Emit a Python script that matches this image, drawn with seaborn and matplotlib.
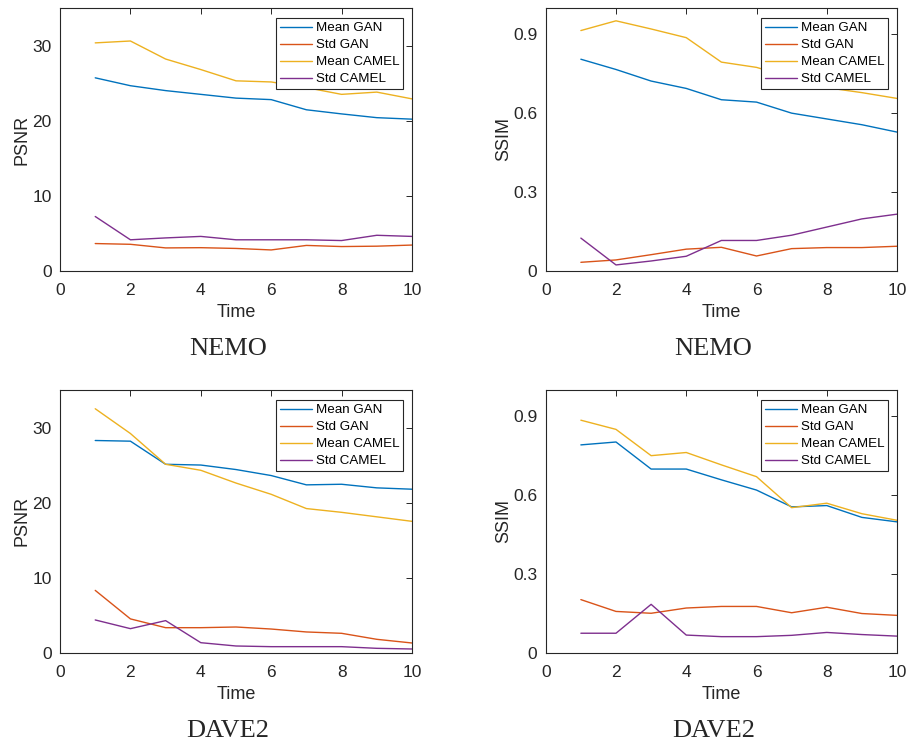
import matplotlib
matplotlib.use("Agg")
import matplotlib.pyplot as plt
import pandas as pd
import seaborn as sns

# time steps
time = [1, 2, 3, 4, 5, 6, 7, 8, 9, 10]
series_names = ["Mean GAN", "Std GAN", "Mean CAMEL", "Std CAMEL"]

# NEMO - PSNR
nemo_psnr_mean_gan = [25.7, 24.65, 24.0, 23.5, 23.0, 22.8, 21.45, 20.9, 20.4, 20.2]
nemo_psnr_std_gan = [3.65, 3.55, 3.07, 3.1, 3.0, 2.8, 3.4, 3.25, 3.3, 3.45]
nemo_psnr_mean_camel = [30.35, 30.6, 28.2, 26.8, 25.3, 25.15, 24.4, 23.5, 23.8, 22.9]
nemo_psnr_std_camel = [7.25, 4.15, 4.4, 4.6, 4.15, 4.15, 4.15, 4.05, 4.75, 4.6]

# NEMO - SSIM
nemo_ssim_mean_gan = [0.805, 0.766, 0.722, 0.694, 0.651, 0.642, 0.600, 0.578, 0.556, 0.528]
nemo_ssim_std_gan = [0.033, 0.042, 0.062, 0.083, 0.090, 0.057, 0.085, 0.089, 0.089, 0.094]
nemo_ssim_mean_camel = [0.914, 0.951, 0.920, 0.887, 0.794, 0.774, 0.735, 0.697, 0.678, 0.656]
nemo_ssim_std_camel = [0.125, 0.023, 0.038, 0.056, 0.116, 0.116, 0.136, 0.167, 0.198, 0.216]

# DAVE2 - PSNR
dave_psnr_mean_gan = [28.27, 28.18, 25.1, 25.0, 24.4, 23.6, 22.36, 22.44, 21.96, 21.78]
dave_psnr_std_gan = [8.3, 4.5, 3.33, 3.33, 3.42, 3.15, 2.76, 2.58, 1.78, 1.29]
dave_psnr_mean_camel = [32.5, 29.2, 25.1, 24.3, 22.6, 21.1, 19.2, 18.7, 18.1, 17.5]
dave_psnr_std_camel = [4.36, 3.2, 4.27, 1.33, 0.89, 0.8, 0.8, 0.8, 0.58, 0.49]

# DAVE2 - SSIM
dave_ssim_mean_gan = [0.791, 0.802, 0.699, 0.699, 0.658, 0.619, 0.555, 0.560, 0.515, 0.498]
dave_ssim_std_gan = [0.202, 0.157, 0.150, 0.170, 0.176, 0.176, 0.152, 0.173, 0.149, 0.142]
dave_ssim_mean_camel = [0.885, 0.850, 0.750, 0.762, 0.715, 0.670, 0.552, 0.569, 0.529, 0.504]
dave_ssim_std_camel = [0.074, 0.074, 0.184, 0.067, 0.061, 0.061, 0.066, 0.077, 0.069, 0.063]

colors = ["#0072BD", "#D95319", "#EDB120", "#7E2F8E"]

sns.set_style("white")
plt.rcParams["font.family"] = ["Liberation Sans", "DejaVu Sans"]

panels = [
    # (position, values, ylabel, yticks, ylim, title)
    ([0.0662, 0.6343, 0.388, 0.355],
     [nemo_psnr_mean_gan, nemo_psnr_std_gan, nemo_psnr_mean_camel, nemo_psnr_std_camel],
     "PSNR", [0, 10, 20, 30], (0, 35), "NEMO"),
    ([0.6017, 0.6343, 0.3873, 0.355],
     [nemo_ssim_mean_gan, nemo_ssim_std_gan, nemo_ssim_mean_camel, nemo_ssim_std_camel],
     "SSIM", [0, 0.3, 0.6, 0.9], (0, 1), "NEMO"),
    ([0.0662, 0.1192, 0.388, 0.3545],
     [dave_psnr_mean_gan, dave_psnr_std_gan, dave_psnr_mean_camel, dave_psnr_std_camel],
     "PSNR", [0, 10, 20, 30], (0, 35), "DAVE2"),
    ([0.6017, 0.1192, 0.3873, 0.3545],
     [dave_ssim_mean_gan, dave_ssim_std_gan, dave_ssim_mean_camel, dave_ssim_std_camel],
     "SSIM", [0, 0.3, 0.6, 0.9], (0, 1), "DAVE2"),
]

fig = plt.figure(figsize=(9.07, 7.41), dpi=100)
edge = "#262626"

for pos, vals, ylab, yticks, ylim, title in panels:
    ax = fig.add_axes(pos)
    df = pd.DataFrame({"Time": time})
    for name, v in zip(series_names, vals):
        df[name] = v
    long_df = df.melt(id_vars="Time", var_name="series", value_name="value")
    sns.lineplot(data=long_df, x="Time", y="value", hue="series",
                 hue_order=series_names, palette=colors, linewidth=1.0, ax=ax)

    ax.set_xlim(0, 10)
    ax.set_ylim(*ylim)
    ax.set_xticks([0, 2, 4, 6, 8, 10])
    ax.set_yticks(yticks)
    ax.set_yticklabels([f"{t:g}" for t in yticks])
    ax.tick_params(direction="in", length=4, width=0.7, top=True, right=True,
                   labelsize=12.5, colors=edge)
    ax.tick_params(axis="x", pad=9)
    ax.tick_params(axis="y", pad=6)
    ax.set_xlabel("Time", fontsize=13, color=edge, labelpad=4)
    ax.set_ylabel(ylab, fontsize=13, color=edge, labelpad=1)
    for sp in ax.spines.values():
        sp.set_color(edge)
        sp.set_linewidth(0.8)

    leg = ax.legend(loc="upper right", bbox_to_anchor=(0.975, 0.962), fontsize=9.6,
                    frameon=True, fancybox=False, framealpha=1, edgecolor=edge,
                    borderpad=0.3, labelspacing=0.35, handlelength=2.4,
                    handletextpad=0.25, borderaxespad=0)
    leg.get_frame().set_linewidth(0.8)
    for t in leg.get_texts():
        t.set_color("black")

    cx = pos[0] + pos[2] / 2 - 8 / 907
    fig.text(cx, pos[1] - 78 / 741, title, ha="center", va="center",
             fontsize=19, family="Liberation Serif")

fig.savefig("out.png", dpi=100, facecolor="white")
